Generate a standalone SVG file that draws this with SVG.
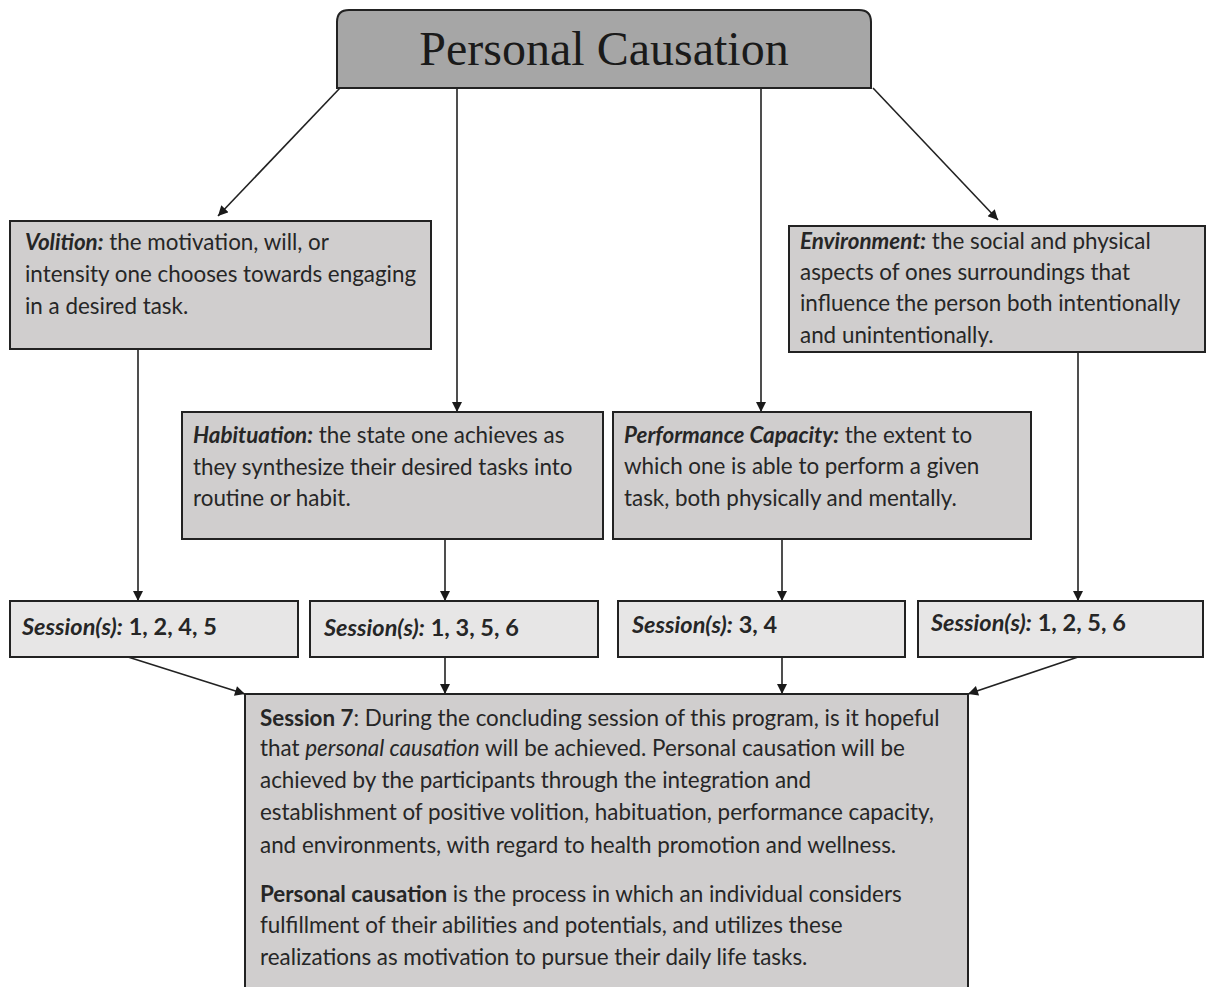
<svg xmlns="http://www.w3.org/2000/svg" width="1207" height="987" viewBox="0 0 1207 987">
<defs>
<marker id="ah" viewBox="0 0 10 10" refX="10" refY="5" markerWidth="11" markerHeight="10" markerUnits="userSpaceOnUse" orient="auto">
<path d="M0,0 L10,5 L0,10 Z" fill="#1a1a1a"/>
</marker>
<style>
.box{stroke:#222;stroke-width:2}
.top{fill:#a6a6a6}
.def{fill:#d0cece}
.ses{fill:#e7e6e6}
.t{font-family:Lato,"Open Sans",sans-serif;font-size:22.4px;fill:#262626}
.s{font-size:23.5px}
.b{font-weight:bold}
.i{font-style:italic}
.title{font-family:"Liberation Serif","Times New Roman",serif;font-size:48px;fill:#1a1a1a}
.c{stroke:#222;stroke-width:1.6;fill:none;marker-end:url(#ah)}
</style>
</defs>
<rect width="1207" height="987" fill="#fff"/>
<g id="connectors">
<line class="c" x1="340" y1="88" x2="218" y2="216"/>
<line class="c" x1="457" y1="88" x2="457" y2="412"/>
<line class="c" x1="761" y1="88" x2="761" y2="412"/>
<line class="c" x1="873" y1="88" x2="998" y2="220"/>
<line class="c" x1="138" y1="349" x2="138" y2="601"/>
<line class="c" x1="445" y1="539" x2="445" y2="601"/>
<line class="c" x1="782" y1="539" x2="782" y2="601"/>
<line class="c" x1="1078" y1="352" x2="1078" y2="601"/>
<line class="c" x1="128" y1="657" x2="245" y2="694"/>
<line class="c" x1="445" y1="657" x2="445" y2="694"/>
<line class="c" x1="782" y1="657" x2="782" y2="694"/>
<line class="c" x1="1078" y1="657" x2="968" y2="694"/>
</g>
<g id="personal-causation">
<path class="box top" d="M337,88 V22 Q337,10 349,10 H859 Q871,10 871,22 V88 Z"/>
<text class="title" x="604" y="65" text-anchor="middle">Personal Causation</text>
</g>
<g id="volition">
<rect class="box def" x="10" y="221" width="421" height="128"/>
<text class="t" x="25" y="250"><tspan class="b i">Volition:</tspan> the motivation, will, or</text>
<text class="t" x="25" y="282">intensity one chooses towards engaging</text>
<text class="t" x="25" y="314">in a desired task.</text>
</g>
<g id="environment">
<rect class="box def" x="789" y="226" width="416" height="126"/>
<text class="t" x="800" y="249"><tspan class="b i">Environment:</tspan> the social and physical</text>
<text class="t" x="800" y="280">aspects of ones surroundings that</text>
<text class="t" x="800" y="311">influence the person both intentionally</text>
<text class="t" x="800" y="343">and unintentionally.</text>
</g>
<g id="habituation">
<rect class="box def" x="182" y="412" width="421" height="127"/>
<text class="t" x="193" y="443"><tspan class="b i">Habituation:</tspan> the state one achieves as</text>
<text class="t" x="193" y="475">they synthesize their desired tasks into</text>
<text class="t" x="193" y="506">routine or habit.</text>
</g>
<g id="performance-capacity">
<rect class="box def" x="613" y="412" width="418" height="127"/>
<text class="t" x="624" y="443"><tspan class="b i">Performance Capacity:</tspan> the extent to</text>
<text class="t" x="624" y="474">which one is able to perform a given</text>
<text class="t" x="624" y="506">task, both physically and mentally.</text>
</g>
<g id="sessions-volition">
<rect class="box ses" x="10" y="601" width="288" height="56"/>
<text class="t s b" x="22" y="635"><tspan class="i">Session(s):</tspan> 1, 2, 4, 5</text>
</g>
<g id="sessions-habituation">
<rect class="box ses" x="310" y="601" width="288" height="56"/>
<text class="t s b" x="324" y="636"><tspan class="i">Session(s):</tspan> 1, 3, 5, 6</text>
</g>
<g id="sessions-performance">
<rect class="box ses" x="618" y="601" width="287" height="56"/>
<text class="t s b" x="632" y="633"><tspan class="i">Session(s):</tspan> 3, 4</text>
</g>
<g id="sessions-environment">
<rect class="box ses" x="918" y="601" width="285" height="56"/>
<text class="t s b" x="931" y="631"><tspan class="i">Session(s):</tspan> 1, 2, 5, 6</text>
</g>
<g id="session-7">
<rect class="box def" x="245" y="694" width="723" height="300"/>
<text class="t" x="260" y="726"><tspan class="b">Session 7</tspan>: During the concluding session of this program, is it hopeful</text>
<text class="t" x="260" y="756">that <tspan class="i">personal causation</tspan> will be achieved. Personal causation will be</text>
<text class="t" x="260" y="788">achieved by the participants through the integration and</text>
<text class="t" x="260" y="820">establishment of positive volition, habituation, performance capacity,</text>
<text class="t" x="260" y="853">and environments, with regard to health promotion and wellness.</text>
<text class="t" x="260" y="902"><tspan class="b">Personal causation</tspan> is the process in which an individual considers</text>
<text class="t" x="260" y="933">fulfillment of their abilities and potentials, and utilizes these</text>
<text class="t" x="260" y="965">realizations as motivation to pursue their daily life tasks.</text>
</g>
</svg>
